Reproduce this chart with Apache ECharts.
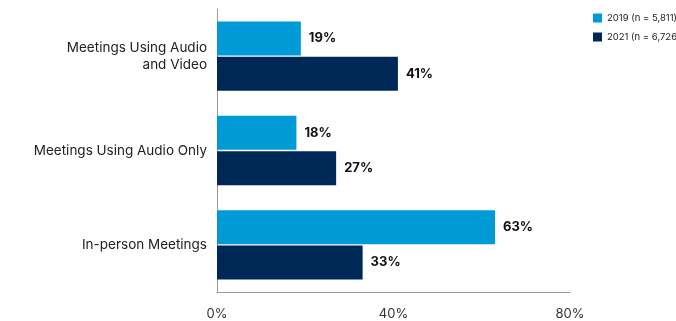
<!DOCTYPE html>
<html>
<head>
<meta charset="utf-8">
<script src="https://cdn.jsdelivr.net/npm/echarts@6/dist/echarts.min.js"></script>
<style>
  html, body { margin: 0; padding: 0; background: #fff; }
  #chart { width: 676px; height: 321px; }
</style>
</head>
<body>
<div id="chart"></div>
<script>
// data
const categories = ['Meetings Using Audio\nand Video', 'Meetings Using Audio Only', 'In-person Meetings'];
const seriesNames = ['2019 (n = 5,811)', '2021 (n = 6,726)'];
const values2019 = [19, 18, 63];
const values2021 = [41, 27, 33];
const xTicks = [0, 40, 80];

const colors = ['#009ad6', '#002856'];
const font = 'Inter, "Noto Sans", sans-serif';

const chart = echarts.init(document.getElementById('chart'));

const valueLabel = {
    show: true,
    position: 'right',
    distance: 8,
    formatter: '{c}%',
    color: '#111',
    fontWeight: 'bold',
    fontSize: 13,
    fontFamily: font
};

const option = {
    animation: false,
    color: colors,
    legend: {
        orient: 'vertical',
        left: 593,
        top: 13,
        padding: 0,
        itemWidth: 9,
        itemHeight: 9,
        itemGap: 9,
        icon: 'rect',
        textStyle: {fontSize: 9.5, color: '#222', fontFamily: font},
        data: seriesNames
    },
    grid: {left: 217, right: 106, top: 9, bottom: 28},
    xAxis: {
        type: 'value',
        min: xTicks[0],
        max: xTicks[xTicks.length - 1],
        interval: 40,
        axisLine: {show: true, lineStyle: {color: '#999'}},
        axisTick: {show: false},
        splitLine: {show: false},
        axisLabel: {
            formatter: '{value}%',
            color: '#333',
            fontSize: 13,
            margin: 16,
            fontFamily: font
        }
    },
    yAxis: {
        type: 'category',
        inverse: true,
        data: categories,
        axisLine: {show: true, lineStyle: {color: '#999'}},
        axisTick: {show: false},
        axisLabel: {
            color: '#222',
            fontSize: 13.5,
            lineHeight: 17,
            margin: 10,
            fontFamily: font
        }
    },
    series: [{
        name: seriesNames[0],
        type: 'bar',
        data: values2019,
        barWidth: 34,
        barGap: '4%',
        barCategoryGap: '27%',
        label: valueLabel
    }, {
        name: seriesNames[1],
        type: 'bar',
        data: values2021,
        barWidth: 34,
        barGap: '4%',
        barCategoryGap: '27%',
        label: valueLabel
    }]
};

chart.setOption(option);
</script>
</body>
</html>
